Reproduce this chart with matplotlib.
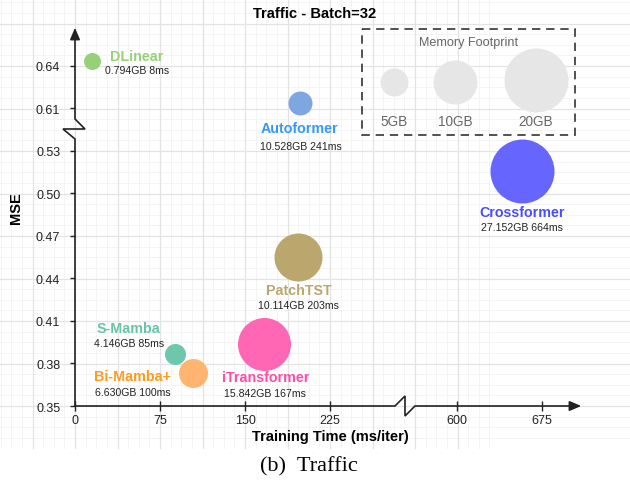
import numpy as np
import matplotlib
matplotlib.use("Agg")
import matplotlib.pyplot as plt
from matplotlib.ticker import FixedLocator
from matplotlib.patches import Rectangle

# values
models = ["DLinear", "Autoformer", "Crossformer", "PatchTST", "iTransformer", "S-Mamba", "Bi-Mamba+"]
memory = ["0.794GB", "10.528GB", "27.152GB", "10.114GB", "15.842GB", "4.146GB", "6.630GB"]
times = ["8ms", "241ms", "664ms", "203ms", "167ms", "85ms", "100ms"]
train_time = [15, 198, 657, 197, 167, 88, 104]
mse = [0.6435, 0.614, 0.516, 0.455, 0.394, 0.387, 0.373]
x_ticks = [0, 75, 150, 225, 600, 675]
y_ticks = [0.35, 0.38, 0.41, 0.44, 0.47, 0.50, 0.53, 0.61, 0.64]
legend_sizes = ["5GB", "10GB", "20GB"]

# styles
radius_px = [8.5, 12, 32, 24, 26.5, 10.5, 14.5]
dot_colors = ["#97D077", "#7EA6E0", "#6666FF", "#BBA66E", "#FF66B3", "#6DC7AA", "#FFB570"]
txt_colors = ["#97D077", "#3399FF", "#4C4CFF", "#BBA66E", "#FF4DA6", "#67C5A5", "#FF9A1F"]
name_off = [(45, 5), (0, -25), (0, -41), (0, -33), (1, -33), (-46, 26), (-60, -3)]
sub_off = [(45, -9), (1, -43), (0, -56), (0, -48), (1, -49), (-46, 11), (-60, -19)]

plt.rcParams["font.family"] = ["Liberation Sans", "DejaVu Sans"]

W, H = 630, 489
fig = plt.figure(figsize=(W / 100, H / 100), dpi=100)

# background: draw.io style grid, in pixel coordinates
bg = fig.add_axes([0, 0, 1, 1], zorder=0)
bg.set_xlim(0, W)
bg.set_ylim(H, 0)
bg.axis("off")
grid_bottom = 449
step = 42.5
for k in range(-8, 40):
    x = 75 + k * step / 4
    if 0 <= x <= W:
        major = k % 4 == 0
        bg.plot([x, x], [0, grid_bottom], color="#E3E3E3" if major else "#F4F4F4",
                lw=0.9 if major else 0.7, zorder=0 if major else -1)
for k in range(-8, 40):
    y = 407 - k * step / 4
    if 0 <= y <= grid_bottom:
        major = k % 4 == 0
        bg.plot([0, W], [y, y], color="#E3E3E3" if major else "#F4F4F4",
                lw=0.9 if major else 0.7, zorder=0 if major else -1)

# axis lines with break marks and arrows
ax_col = "#222222"
bg.plot([75, 395, 405, 405, 415, 578], [407, 407, 397, 417, 407, 407], color=ax_col, lw=1.2,
        solid_joinstyle="miter", zorder=3)
bg.annotate("", xy=(584, 407), xytext=(570, 407),
            arrowprops=dict(arrowstyle="-|>,head_length=0.7,head_width=0.3", color=ax_col, lw=1.2))
bg.plot([75, 75, 63, 85, 75, 75], [407, 140, 130, 130, 120, 33], color=ax_col, lw=1.2,
        solid_joinstyle="miter", zorder=3)
bg.annotate("", xy=(75, 26), xytext=(75, 40),
            arrowprops=dict(arrowstyle="-|>,head_length=0.7,head_width=0.3", color=ax_col, lw=1.2))

# legend box for memory footprint
bg.add_patch(Rectangle((362, 30), 213, 106, fill=False, ec="#333333", lw=1.2,
                       ls=(0, (5, 3.5)), zorder=3))
bg.text(469, 43, "Memory Footprint", ha="center", va="center", fontsize=9.1, color="#666666")
for (lx, ly, r), lab in zip([(394, 83, 14), (455, 83, 22), (536, 81, 32)], legend_sizes):
    bg.scatter([lx], [ly], s=(2 * r * 0.72) ** 2, color="#E6E6E6", lw=0, zorder=3)
    bg.text(lx, 122, lab, ha="center", va="center", fontsize=9.8, color="#666666")


# broken scales
def fx(x):
    x = np.asarray(x, dtype=float)
    return np.where(x <= 290, x, np.where(x >= 553, x - 263, 290))


def ix(u):
    u = np.asarray(u, dtype=float)
    return np.where(u <= 290, u, u + 263)


def fy(y):
    y = np.asarray(y, dtype=float)
    return np.where(y <= 0.545, y, np.where(y >= 0.595, y - 0.05, 0.545))


def iy(v):
    v = np.asarray(v, dtype=float)
    return np.where(v <= 0.545, v, v + 0.05)


ax = fig.add_axes([75 / W, (H - 407) / H, (583 - 75) / W, (407 - 27) / H], zorder=2)
ax.patch.set_alpha(0)
ax.set_xscale("function", functions=(fx, ix))
ax.set_yscale("function", functions=(fy, iy))
ax.set_xlim(0, 711)
ax.set_ylim(0.35, 0.6682)
for s in ax.spines.values():
    s.set_visible(False)
ax.xaxis.set_major_locator(FixedLocator(x_ticks))
ax.yaxis.set_major_locator(FixedLocator(y_ticks))
ax.xaxis.set_minor_locator(FixedLocator([]))
ax.yaxis.set_minor_locator(FixedLocator([]))
ax.set_xticklabels([str(t) for t in x_ticks])
ax.set_yticklabels([f"{t:.2f}" for t in y_ticks])
ax.tick_params(axis="x", direction="inout", length=7, width=1, color=ax_col, pad=2,
               labelsize=9, labelcolor="#222222")
ax.tick_params(axis="y", direction="out", length=3.6, width=1, color=ax_col, pad=7,
               labelsize=9, labelcolor="#222222")

for i in range(len(models)):
    ax.scatter(train_time[i], mse[i], s=(2 * radius_px[i] * 0.72) ** 2, color=dot_colors[i],
               lw=0, zorder=3, clip_on=False)
    ax.annotate(models[i], (train_time[i], mse[i]), xytext=name_off[i], textcoords="offset pixels",
                ha="center", va="center", fontsize=10.3, fontweight="bold", color=txt_colors[i])
    ax.annotate(f"{memory[i]} {times[i]}", (train_time[i], mse[i]), xytext=sub_off[i],
                textcoords="offset pixels", ha="center", va="center", fontsize=7.6, color="#222222")

fig.text(16 / W, 1 - 208 / H, "MSE", rotation=90, ha="center", va="center",
         fontsize=10.5, fontweight="bold")
fig.text(330 / W, 1 - 437 / H, "Training Time (ms/iter)", ha="center", va="center",
         fontsize=10.5, fontweight="bold")
fig.text(315 / W, 1 - 14 / H, "Traffic - Batch=32", ha="center", va="center",
         fontsize=10.6, fontweight="bold")
fig.text(309 / W, 1 - 467 / H, "(b)  Traffic", ha="center", va="center",
         fontsize=16, family="Liberation Serif")

fig.savefig("out.png", dpi=100)
